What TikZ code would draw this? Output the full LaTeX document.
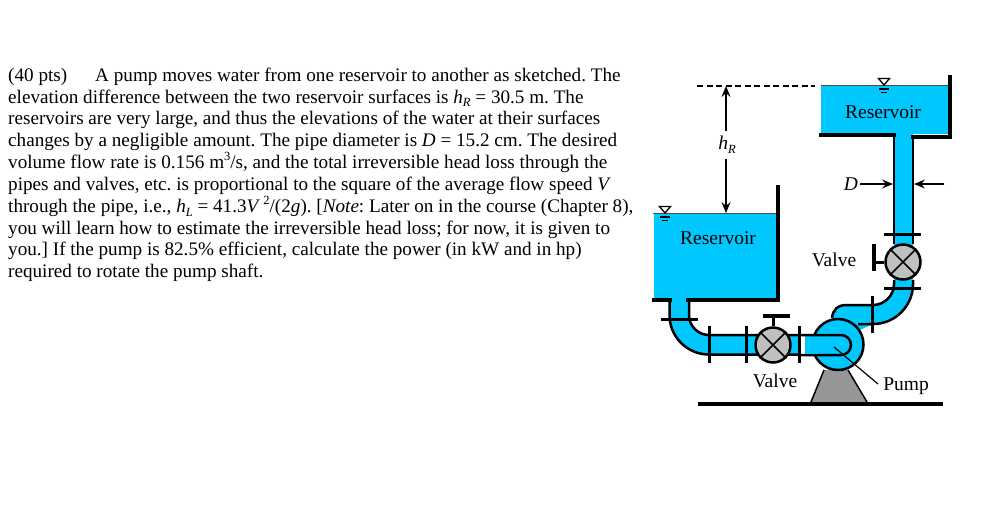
\documentclass[tikz,border=0pt]{standalone}
\usepackage{fontspec}
\setmainfont{Liberation Serif}
\usetikzlibrary{arrows.meta}
\definecolor{water}{RGB}{0,200,255}
\definecolor{valvegray}{RGB}{192,192,192}
\definecolor{basegray}{RGB}{150,150,150}
\newcommand{\subit}[1]{\raisebox{-0.2em}{\fontsize{12.5}{12.5}\selectfont\textit{#1}}}
\newcommand{\suprm}[1]{\raisebox{0.42em}{\fontsize{12.5}{12.5}\selectfont #1}}
\tikzset{
  pipewall/.style={line width=2.5pt, black},
  tankwall/.style={line width=4pt, black},
  flange/.style={line width=3pt, black},
  dimarrow/.style={line width=2pt, -{Stealth[length=11pt,width=9pt,inset=4pt]}},
  valvebody/.style={circle, draw=black, fill=valvegray, line width=2.5pt, minimum size=35pt, inner sep=0pt},
  label/.style={font=\fontsize{19.5}{22}\selectfont, inner sep=0pt}
}
\begin{document}
\begin{tikzpicture}[x=1pt,y=-1pt]
\useasboundingbox (0,0) rectangle (998,528);

\node[anchor=north west, align=left, inner sep=0pt, font=\fontsize{19.15}{21.85}\selectfont\frenchspacing] (problem) at (8,67.5) {%
(40 pts)\hspace{28pt}A pump moves water from one reservoir to another as sketched. The\\
elevation difference between the two reservoir surfaces is \textit{h}\subit{R} = 30.5 m. The\\
reservoirs are very large, and thus the elevations of the water at their surfaces\\
changes by a negligible amount. The pipe diameter is \textit{D} = 15.2 cm. The desired\\
volume flow rate is 0.156 m\suprm{3}/s, and the total irreversible head loss through the\\
pipes and valves, etc. is proportional to the square of the average flow speed \textit{V}\\
through the pipe, i.e., \textit{h}\subit{L} = 41.3\textit{V}\,\suprm{2}/(2\textit{g}). [\textit{Note}: Later on in the course (Chapter 8),\\
you will learn how to estimate the irreversible head loss; for now, it is given to\\
you.] If the pump is 82.5\% efficient, calculate the power (in kW and in hp)\\
required to rotate the pump shaft.};

% water
\fill[water] (821,86) rectangle (948,134);
\fill[water] (654,213) rectangle (778,299);
\fill[water] (894,130) rectangle (913,290);
\fill[water] (670,296) rectangle (689,316);

% surfaces
\draw[line width=1pt, black!70] (821,85.5) -- (948,85.5);
\draw[line width=1pt, black!70] (653,213) -- (776,213);

% upper pipe and elbow
\fill[water] (893,284) arc (0:90:20) -- (847,304) .. controls (838,304) and (833,309) .. (832,318) -- (860,330) -- (873,324) arc (90:0:40) -- cycle;
\draw[pipewall] (894,136) -- (894,244);
\draw[pipewall] (913,136) -- (913,244);
\draw[pipewall] (894,280) -- (894,284) arc (0:90:21) -- (847,305) .. controls (838,305) and (833,309) .. (832,318);
\draw[pipewall] (913,280) -- (913,284) arc (0:90:40) -- (858,324);

% lower elbow
\fill[water] (689,315) arc (180:90:20) -- (800,335) -- (800,355) -- (709,355) arc (90:180:40) -- cycle;
\draw[pipewall] (669.5,300) -- (669.5,315) arc (180:90:39.5) -- (800,354.5);
\draw[pipewall] (689,300) -- (689,315) arc (180:90:20) -- (800,335);

% pump
\fill[basegray] (824,370) -- (848,370) -- (867,402) -- (811,402) -- cycle;
\draw[line width=1.5pt] (824,370) -- (811,402) (848,370) -- (867,402);
\node[circle, draw=black, fill=water, line width=2.5pt, minimum size=51pt, inner sep=0pt] (pump) at (838,344.5) {};
\fill[water] (805,335) -- (841,335) arc (-90:90:10) -- (805,355) -- cycle;
\draw[pipewall] (800,335) -- (841,335) arc (-90:90:10) -- (800,355);
\fill[water] (806,336.5) rectangle (818,353.5);

% valves
\node[valvebody] (valveup) at (903,262) {};
\node[valvebody] (valvelow) at (773,345) {};
\foreach \v in {valveup,valvelow}{
  \draw[line width=1.7pt] (\v.45) -- (\v.225);
  \draw[line width=1.7pt] (\v.135) -- (\v.315);
}

% handles
\coordinate (handleup) at (874,262);
\coordinate (handlelow) at (773,316);
\draw[line width=3pt] (valveup.west) -- (handleup);
\draw[line width=4pt] (874,244) -- (874,271);
\draw[line width=3pt] (valvelow.north) -- (handlelow);
\draw[line width=4pt] (763,316) -- (790,316);

% flanges
\foreach \x in {709,746,799}{\draw[flange] (\x,326) -- (\x,363);}
\draw[flange] (872,296) -- (872,333);
\foreach \y in {234,288}{\draw[flange] (884,\y) -- (921,\y);}
\draw[flange] (661,319) -- (698,319);

% tank walls
\draw[tankwall] (950,75) -- (950,136.5) -- (911,136.5);
\draw[tankwall] (819,135) -- (896,135);
\draw[tankwall] (778,185) -- (778,300) -- (686,300);
\draw[tankwall] (652,300) -- (672,300);
\draw[line width=4pt] (698,404) -- (943,404);

% free surface marks
\foreach \x/\y in {884/85,665/213}{
  \draw[line width=1.3pt, fill=white] (\x,\y) -- ({\x-5.5},{\y-6.5}) -- ({\x+5.5},{\y-6.5}) -- cycle;
  \draw[line width=1.2pt] ({\x-5},{\y+4}) -- ({\x+5},{\y+4});
  \draw[line width=1.2pt] ({\x-3},{\y+7.5}) -- ({\x+3},{\y+7.5});
}

% labels
\node[label] (resup) at (883,112) {Reservoir};
\node[label] (reslow) at (718,238) {Reservoir};
\node[label] (valvetextup) at (834,260) {Valve};
\node[label] (valvetextlow) at (775,381) {Valve};
\node[label] (pumptext) at (906,386.5) {Pump};
\coordinate (pumpeye) at (834,347);
\coordinate (pumpend) at (878,384);
\draw[line width=1.2pt] (pumpeye) -- (pumpend);

% dimensions
\node[label, minimum height=28pt] (hR) at (727,145) {\textit{h}\subit{R}};
\coordinate (hRtop) at (726,86);
\coordinate (hRbot) at (726,213);
\draw[dimarrow] (hR.north -| hRtop) -- (hRtop);
\draw[dimarrow] (hR.south -| hRbot) -- (hRbot);
\draw[line width=2pt, dash pattern=on 6pt off 3.5pt] (697,85.5) -- (815,85.5);

\node[label] (dtext) at (851,184) {\textit{D}};
\coordinate (dleft) at (893,184);
\coordinate (dright) at (914,184);
\coordinate (dstart) at (944,184);
\draw[dimarrow] (dtext.east)++(2,0) -- (dleft);
\draw[dimarrow] (dstart) -- (dright);
\end{tikzpicture}
\end{document}
